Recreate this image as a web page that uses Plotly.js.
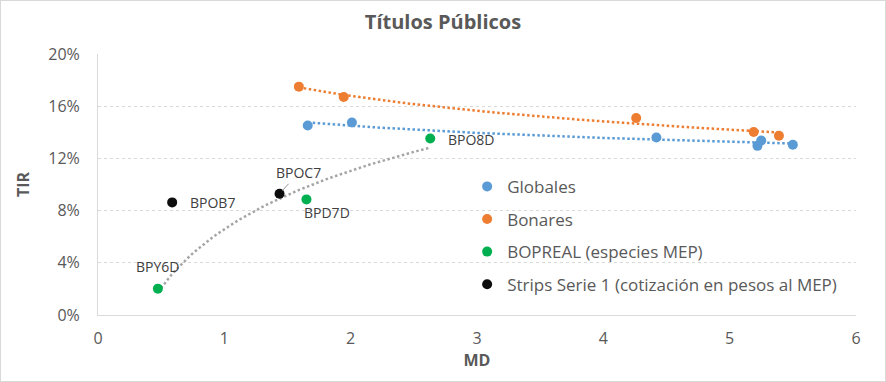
<!DOCTYPE html>
<html>
<head>
<meta charset="utf-8">
<script src="https://cdn.plot.ly/plotly-3.0.1.min.js"></script>
<style>
  html, body { margin: 0; padding: 0; background: #fff; }
  #wrap { width: 886px; height: 382px; box-sizing: border-box; border: 1px solid #d9d9d9; }
  #chart { width: 884px; height: 380px; }
</style>
</head>
<body>
<div id="wrap"><div id="chart"></div></div>
<script>
// ---- Data (MD = modified duration, TIR in %) ----
const globalesMD  = [1.66, 2.01, 4.42, 5.22, 5.25, 5.50];
const globalesTIR = [14.52, 14.75, 13.60, 12.96, 13.37, 13.04];

const bonaresMD  = [1.59, 1.945, 4.26, 5.19, 5.39];
const bonaresTIR = [17.50, 16.70, 15.09, 14.02, 13.73];

const boprealNames = ['BPY6D', 'BPD7D', 'BPO8D'];
const boprealMD  = [0.474, 1.65, 2.63];
const boprealTIR = [2.02, 8.86, 13.52];

const stripsNames = ['BPOB7', 'BPOC7'];
const stripsMD  = [0.587, 1.437];
const stripsTIR = [8.63, 9.29];

const seriesNames = ['Globales', 'Bonares', 'BOPREAL (especies MEP)', 'Strips Serie 1 (cotización en pesos al MEP)'];
const colors = ['#5B9BD5', '#ED7D31', '#00B050', '#0D0D0D'];
const trendGray = '#A5A5A5';

// Logarithmic least-squares trendline (like Excel), sampled between data min and max
function logTrend(xs, ys, n) {
  const lx = xs.map(Math.log);
  const mx = lx.reduce((a, b) => a + b, 0) / lx.length;
  const my = ys.reduce((a, b) => a + b, 0) / ys.length;
  let sxy = 0, sxx = 0;
  for (let i = 0; i < lx.length; i++) { sxy += (lx[i] - mx) * (ys[i] - my); sxx += (lx[i] - mx) ** 2; }
  const a = sxy / sxx, b = my - a * mx;
  const x0 = Math.min(...xs), x1 = Math.max(...xs);
  const tx = [], ty = [];
  for (let i = 0; i <= n; i++) { const x = x0 + (x1 - x0) * i / n; tx.push(x); ty.push(a * Math.log(x) + b); }
  return { x: tx, y: ty };
}

const FONT = 'Open Sans, Noto Sans, sans-serif';
const dotLine = (c) => ({ color: c, width: 2.5, dash: '2.5px,2.5px' });

const tG = logTrend(globalesMD, globalesTIR, 60);
const tB = logTrend(bonaresMD, bonaresTIR, 60);
const tP = logTrend(boprealMD, boprealTIR, 60);

const traces = [
  { x: tG.x, y: tG.y, mode: 'lines', line: dotLine(colors[0]), showlegend: false, hoverinfo: 'skip' },
  { x: tB.x, y: tB.y, mode: 'lines', line: dotLine(colors[1]), showlegend: false, hoverinfo: 'skip' },
  { x: tP.x, y: tP.y, mode: 'lines', line: dotLine(trendGray), showlegend: false, hoverinfo: 'skip' },
  { x: globalesMD, y: globalesTIR, mode: 'markers', name: seriesNames[0], legendgroup: 'g1', marker: { color: colors[0], size: 10 } },
  { x: bonaresMD, y: bonaresTIR, mode: 'markers', name: seriesNames[1], legendgroup: 'g2', marker: { color: colors[1], size: 10 } },
  { x: boprealMD, y: boprealTIR, mode: 'markers', name: seriesNames[2], legendgroup: 'g3', marker: { color: colors[2], size: 10 } },
  { x: stripsMD, y: stripsTIR, mode: 'markers', name: seriesNames[3], legendgroup: 'g4', marker: { color: colors[3], size: 10 } }
];

// label offsets (px) for the point labels
const boprealOffsets = [[0, -22], [21, 13], [41, 1]];
const stripsOffsets = [[40, 0], [19, -21]];
const annotations = [];
function addLabels(names, xs, ys, offs, leaderIdx) {
  names.forEach((nm, i) => {
    const leader = leaderIdx === i;
    annotations.push({
      x: xs[i], y: ys[i], xref: 'x', yref: 'y', text: nm,
      showarrow: true, ax: offs[i][0], ay: offs[i][1],
      arrowhead: 0, arrowwidth: 0.8, standoff: leader ? 4 : 0,
      arrowcolor: leader ? '#7f7f7f' : 'rgba(0,0,0,0)',
      font: { family: FONT, size: 14, color: '#404040' }
    });
  });
}
addLabels(boprealNames, boprealMD, boprealTIR, boprealOffsets, -1);
addLabels(stripsNames, stripsMD, stripsTIR, stripsOffsets, 1);

const layout = {
  width: 884, height: 380,
  margin: { l: 97, r: 29, t: 53, b: 66 },
  paper_bgcolor: '#fff', plot_bgcolor: '#fff',
  font: { family: FONT, color: '#595959' },
  title: { text: '<b>Títulos Públicos</b>', font: { family: FONT, size: 20, color: '#595959' }, x: 0.5, xanchor: 'center', y: 0.945, yanchor: 'middle' },
  xaxis: {
    range: [0, 6], dtick: 1, tick0: 0, showgrid: false, zeroline: false,
    showline: true, linecolor: '#D9D9D9', linewidth: 1, ticks: '',
    ticklabelstandoff: 9,
    tickfont: { family: FONT, size: 16, color: '#595959' },
    title: { text: '<b>MD</b>', font: { family: FONT, size: 16, color: '#595959' }, standoff: 6 }
  },
  yaxis: {
    range: [0, 20], dtick: 4, tick0: 0, ticksuffix: '%',
    showgrid: true, gridcolor: '#D9D9D9', griddash: 'dot', gridwidth: 1,
    zeroline: false, showline: true, linecolor: '#D9D9D9', linewidth: 1, ticks: '',
    ticklabelstandoff: 14,
    tickfont: { family: FONT, size: 16, color: '#595959' },
    title: { text: '<b>TIR</b>', font: { family: FONT, size: 16, color: '#595959' }, standoff: 14 }
  },
  legend: {
    x: 0.487, xanchor: 'left', y: 0.56, yanchor: 'top',
    bgcolor: 'rgba(0,0,0,0)', tracegroupgap: 7.5,
    font: { family: FONT, size: 17, color: '#595959' }
  },
  annotations: annotations,
  showlegend: true
};

Plotly.newPlot('chart', traces, layout, { displayModeBar: false, staticPlot: true });
</script>
</body>
</html>
